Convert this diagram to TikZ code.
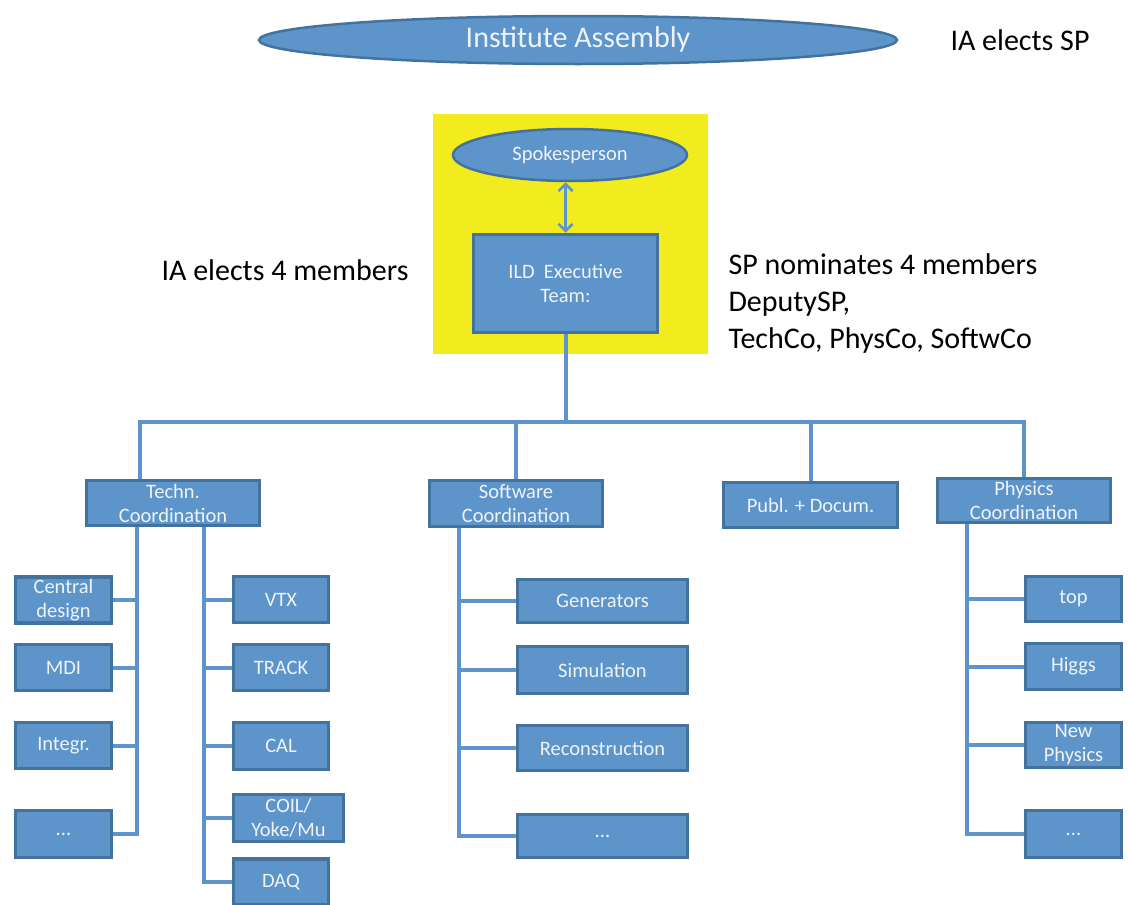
\documentclass[tikz,border=0pt]{standalone}
\usepackage{fontspec}
\setmainfont{Carlito}
\usetikzlibrary{shapes.geometric}
\usetikzlibrary{arrows.meta}
\definecolor{boxblue}{HTML}{5D95CB}
\definecolor{boxedge}{HTML}{44729F}
\definecolor{linkblue}{HTML}{5F93CC}
\definecolor{boxtext}{HTML}{EEF3F9}
\definecolor{execyellow}{HTML}{F2EB1D}
\tikzset{
  unit/.style={draw=boxedge, fill=boxblue, line width=3.5pt, text=boxtext,
    inner sep=0pt, align=center, font=\fontsize{20.5}{24}\selectfont},
  assembly/.style={ellipse, draw=boxedge, fill=boxblue, line width=2.5pt,
    text=boxtext, inner sep=0pt, font=\fontsize{30}{36}\selectfont},
  link/.style={draw=linkblue, line width=4pt},
  remark/.style={align=left, font=\fontsize{30}{37}\selectfont}
}

\begin{document}
\begin{tikzpicture}[x=1pt, y=-1pt]
        \useasboundingbox (0,0) rectangle (1128,905);

        % Assembly
        \node[assembly, minimum width=638, minimum height=48] (ia) at (578,40) {Institute Assembly};
        \node[remark] (iasp) at (1020,40) {IA elects SP};

        % Executive
        \node[fill=execyellow, minimum width=275, minimum height=240, inner sep=0pt] (execarea) at (570.5,234) {};
        \node[assembly, minimum width=234, minimum height=52, font=\fontsize{20.5}{24}\selectfont] (spokes) at (570,155) {Spokesperson};
        \node[unit, minimum width=184, minimum height=98] (ild) at (565.5,283.5) {ILD\ \ Executive\\Team:};
        \draw[linkblue, line width=2.5pt, {Straight Barb[length=7pt,width=14pt]}-{Straight Barb[length=7pt,width=14pt]}] (ild.north) -- (ild.north |- spokes.south);

        % notes
        \node[remark] (ianote) at (285,270) {IA elects 4 members};
        \node[remark, anchor=west] (spnote) at (725,303) {SP nominates 4 members\\DeputySP,\\TechCo, PhysCo, SoftwCo};

        % Coordinations
        \node[unit, minimum width=173, minimum height=45] (techn) at (173,503) {Techn.\\Coordination};
        \node[unit, minimum width=173, minimum height=46] (soft) at (516,503.5) {Software\\Coordination};
        \node[unit, minimum width=174, minimum height=45] (publ) at (810.5,505) {Publ. + Docum.};
        \node[unit, minimum width=173, minimum height=44] (phys) at (1024,500.5) {Physics\\Coordination};

        % Techn. left
        \node[unit, minimum width=96, minimum height=46] (central) at (63.5,600) {Central\\design};
        \node[unit, minimum width=96, minimum height=46] (mdi) at (63.5,667.5) {MDI};
        \node[unit, minimum width=96, minimum height=46] (integr) at (63.5,745.5) {Integr.};
        \node[unit, minimum width=96, minimum height=47] (tdots) at (63.5,834) {...};

        % Techn. right
        \node[unit, minimum width=95, minimum height=46] (vtx) at (281,599.5) {VTX};
        \node[unit, minimum width=95, minimum height=46] (track) at (281,667.5) {TRACK};
        \node[unit, minimum width=95, minimum height=47] (cal) at (281,746) {CAL};
        \node[unit, minimum width=110, minimum height=47] (coil) at (288.5,818) {COIL/\\Yoke/Mu};
        \node[unit, minimum width=95, minimum height=46] (daq) at (281,882) {DAQ};

        % Software
        \node[unit, minimum width=170, minimum height=43] (gen) at (602.5,601) {Generators};
        \node[unit, minimum width=170, minimum height=47] (sim) at (602.5,670) {Simulation};
        \node[unit, minimum width=170, minimum height=45] (reco) at (602.5,748) {Reconstruction};
        \node[unit, minimum width=170, minimum height=43] (sdots) at (602.5,836) {...};

        % Physics
        \node[unit, minimum width=96, minimum height=45] (top) at (1073.5,599) {top};
        \node[unit, minimum width=96, minimum height=46] (higgs) at (1073.5,666.5) {Higgs};
        \node[unit, minimum width=96, minimum height=45] (newphys) at (1073.5,745) {New\\Physics};
        \node[unit, minimum width=96, minimum height=47] (pdots) at (1073.5,834) {...};

        % Trunk and bus
        \coordinate (bus) at (0,422);
        \coordinate (technin) at (140,479);
        \draw[link] (ild.south) -- (ild.south |- bus);
        \draw[link] (technin) |- (phys.north |- bus) -- (phys.north);
        \draw[link] (soft.north) -- (soft.north |- bus);
        \draw[link] (publ.north) -- (publ.north |- bus);

        % Techn. columns
        \coordinate (technl) at (137,527);
        \coordinate (technr) at (204,527);
        \draw[link] (technl) |- (tdots.east);
        \draw[link] (central.east) -- (central.east -| technl);
        \draw[link] (mdi.east) -- (mdi.east -| technl);
        \draw[link] (integr.east) -- (integr.east -| technl);
        \draw[link] (technr) |- (daq.west);
        \draw[link] (vtx.west) -- (vtx.west -| technr);
        \draw[link] (track.west) -- (track.west -| technr);
        \draw[link] (cal.west) -- (cal.west -| technr);
        \draw[link] (coil.west) -- (coil.west -| technr);

        % Software column
        \coordinate (softl) at (459,528);
        \draw[link] (softl) |- (sdots.west);
        \draw[link] (gen.west) -- (gen.west -| softl);
        \draw[link] (sim.west) -- (sim.west -| softl);
        \draw[link] (reco.west) -- (reco.west -| softl);

        % Physics column
        \coordinate (physl) at (967,524);
        \draw[link] (physl) |- (pdots.west);
        \draw[link] (top.west) -- (top.west -| physl);
        \draw[link] (higgs.west) -- (higgs.west -| physl);
        \draw[link] (newphys.west) -- (newphys.west -| physl);

       \end{tikzpicture}
\end{document}
